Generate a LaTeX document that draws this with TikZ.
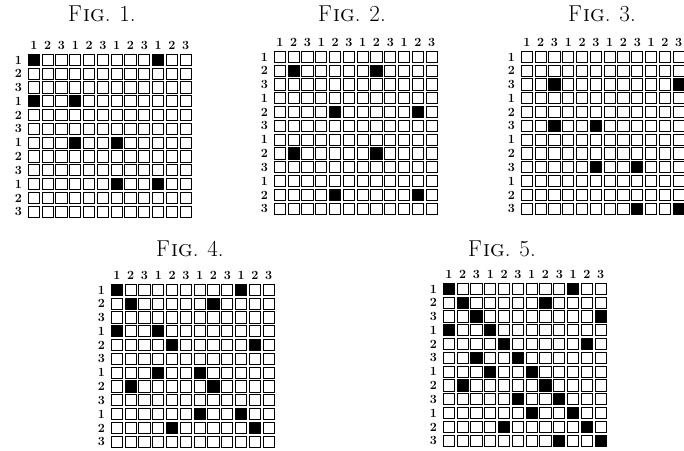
\documentclass[tikz,border=0pt]{standalone}
\usepackage{fontspec}
\begin{document}
\begin{tikzpicture}[x=1pt,y=-1pt,
  cellbox/.style={draw=black,line width=1.05pt},
  cellfill/.style={fill=black},
  numlab/.style={font=\fontsize{12.5}{12.5}\selectfont\bfseries,inner sep=0pt},
  figtitle/.style={font=\fontsize{23}{23}\selectfont,inner sep=0pt,anchor=base}]
\useasboundingbox (0,0) rectangle (684,450);
\def\s{13.8}
\def\g{1.25}
\newcommand\figgrid[3]{%
  \begin{scope}[shift={(#1,#2)}]
    \foreach \c in {0,...,11}{
      \foreach \r in {0,...,11}{
        \draw[cellbox] ({\c*\s+\g},{\r*\s+\g}) rectangle ++({\s-2*\g},{\s-2*\g});
      }
      \pgfmathtruncatemacro\lab{mod(\c,3)+1}
      \node[numlab] at ({\c*\s+\s/2},-8) {\lab};
      \node[numlab,anchor=east] at (-5,{\c*\s+\s/2}) {\lab};
    }
    \foreach \c/\r in {#3}{
      \fill[cellfill] ({(\c-1)*\s+\g-0.5},{(\r-1)*\s+\g-0.5}) rectangle ++({\s-2*\g+1.0},{\s-2*\g+1.0});
    }
  \end{scope}}
% titles
\node[figtitle] (t1) at (102,21) {F\kern1pt\textsc{ig}.\ \kern2pt1.};
\node[figtitle] (t2) at (352,21) {F\kern1pt\textsc{ig}.\ \kern2pt2.};
\node[figtitle] (t3) at (602,21) {F\kern1pt\textsc{ig}.\ \kern2pt3.};
\node[figtitle] (t4) at (190,256) {F\kern1pt\textsc{ig}.\ \kern2pt4.};
\node[figtitle] (t5) at (502,256) {F\kern1pt\textsc{ig}.\ \kern2pt5.};
% grids
\figgrid{27}{53}{1/1,10/1,1/4,4/4,4/7,7/7,7/10,10/10}
\figgrid{273}{50}{2/2,8/2,5/5,11/5,2/8,8/8,5/11,11/11}
\figgrid{520}{50}{3/3,12/3,3/6,6/6,6/9,9/9,9/12,12/12}
\figgrid{110}{283}{1/1,10/1,1/4,4/4,4/7,7/7,7/10,10/10,2/2,8/2,5/5,11/5,2/8,8/8,5/11,11/11}
\figgrid{442}{282}{1/1,10/1,1/4,4/4,4/7,7/7,7/10,10/10,2/2,8/2,5/5,11/5,2/8,8/8,5/11,11/11,3/3,12/3,3/6,6/6,6/9,9/9,9/12,12/12}
\end{tikzpicture}
\end{document}
